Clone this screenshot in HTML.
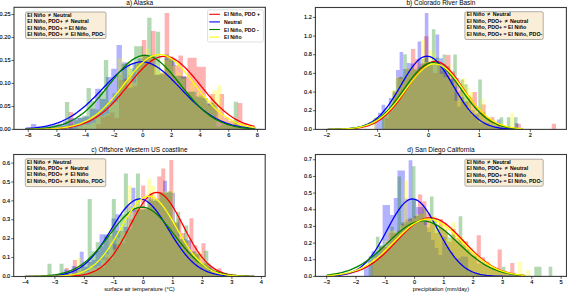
<!DOCTYPE html>
<html><head><meta charset="utf-8"><style>
html,body{margin:0;padding:0;background:#fff;width:567px;height:292px;overflow:hidden}
svg{display:block}
text{font-family:"Liberation Sans", sans-serif;fill:#000}
</style></head><body>
<svg width="567" height="292" viewBox="0 0 567 292" font-family='"Liberation Sans", sans-serif'><defs><clipPath id="clipa"><rect x="14.0" y="7.3" width="251.39999999999998" height="122.10000000000001"/></clipPath><clipPath id="clipb"><rect x="315.4" y="7.5" width="251.0" height="121.9"/></clipPath><clipPath id="clipc"><rect x="13.7" y="154.5" width="251.5" height="122.0"/></clipPath><clipPath id="clipd"><rect x="315.4" y="154.5" width="251.10000000000002" height="121.89999999999998"/></clipPath></defs><rect width="567" height="292" fill="#fff"/>
<g clip-path="url(#clipa)">
<path fill="#ff0000" fill-opacity="0.3" d="M68.7 111.9H73.27V129.4H68.7ZM96.12 124.24H100.69V129.4H96.12ZM100.69 117.28H105.26V129.4H100.69ZM105.26 115.42H109.83V129.4H105.26ZM109.83 112.47H114.4V129.4H109.83ZM114.4 117.97H118.97V129.4H114.4ZM118.97 80.23H123.54V129.4H118.97ZM123.54 78.64H128.11V129.4H123.54ZM128.11 75.17H132.68V129.4H128.11ZM132.68 86.27H137.25V129.4H132.68ZM137.25 61.43H141.82V129.4H137.25ZM141.82 39.9H146.39V129.4H141.82ZM146.39 56.24H150.96V129.4H146.39ZM150.96 31H155.53V129.4H150.96ZM155.53 74.42H160.1V129.4H155.53ZM160.1 72.69H164.67V129.4H160.1ZM164.67 12.9H169.24V129.4H164.67ZM169.24 56.39H173.81V129.4H169.24ZM173.81 65.18H178.38V129.4H173.81ZM178.38 55.48H182.95V129.4H178.38ZM182.95 76.4H187.52V129.4H182.95ZM187.52 57.8H192.09V129.4H187.52ZM192.09 57.8H196.66V129.4H192.09ZM196.66 66.7H201.23V129.4H196.66ZM201.23 66.7H205.8V129.4H201.23ZM205.8 103.47H210.37V129.4H205.8ZM210.37 94H214.94V129.4H210.37ZM214.94 109.47H219.51V129.4H214.94ZM219.51 94H224.08V129.4H219.51ZM224.08 117.59H228.65V129.4H224.08ZM228.65 120.93H233.22V129.4H228.65ZM233.22 121.73H237.79V129.4H233.22ZM237.79 102.9H242.36V129.4H237.79ZM242.36 123.01H246.93V129.4H242.36ZM246.93 126.55H251.5V129.4H246.93ZM251.5 127.01H256.07V129.4H251.5Z"/>
<path fill="#0000ff" fill-opacity="0.3" d="M25.6 127.4H30.95V129.4H25.6ZM30.95 123.9H36.3V129.4H30.95ZM36.3 126.61H41.65V129.4H36.3ZM41.65 126.49H47V129.4H41.65ZM47 125.38H52.35V129.4H47ZM52.35 124.6H57.7V129.4H52.35ZM57.7 123.78H63.05V129.4H57.7ZM63.05 121.43H68.4V129.4H63.05ZM68.4 118.34H73.75V129.4H68.4ZM73.75 117.97H79.1V129.4H73.75ZM79.1 117.61H84.45V129.4H79.1ZM84.45 116.6H89.8V129.4H84.45ZM89.8 108.78H95.15V129.4H89.8ZM95.15 88.8H100.5V129.4H95.15ZM100.5 98.92H105.85V129.4H100.5ZM105.85 77.05H111.2V129.4H105.85ZM111.2 68.8H116.55V129.4H111.2ZM116.55 45.1H121.9V129.4H116.55ZM121.9 62.2H127.25V129.4H121.9ZM127.25 87.73H132.6V129.4H127.25ZM132.6 63.02H137.95V129.4H132.6ZM137.95 58.53H143.3V129.4H137.95ZM143.3 54.68H148.65V129.4H143.3ZM148.65 57.48H154V129.4H148.65ZM154 74.97H159.35V129.4H154ZM159.35 74.51H164.7V129.4H159.35ZM164.7 58.57H170.05V129.4H164.7ZM170.05 58.85H175.4V129.4H170.05ZM175.4 75.68H180.75V129.4H175.4ZM180.75 76.24H186.1V129.4H180.75ZM186.1 91.67H191.45V129.4H186.1ZM191.45 91.85H196.8V129.4H191.45ZM196.8 97.15H202.15V129.4H196.8ZM202.15 98.09H207.5V129.4H202.15ZM207.5 103.34H212.85V129.4H207.5ZM212.85 105.15H218.2V129.4H212.85ZM218.2 121.43H223.55V129.4H218.2ZM223.55 123.35H228.9V129.4H223.55ZM228.9 125.57H234.25V129.4H228.9ZM234.25 126.34H239.6V129.4H234.25ZM239.6 127.09H244.95V129.4H239.6ZM244.95 127.96H250.3V129.4H244.95ZM250.3 128.21H255.65V129.4H250.3ZM255.65 128.86H261V129.4H255.65Z"/>
<path fill="#008000" fill-opacity="0.3" d="M34.59 128.85H38.92V129.4H34.59ZM38.92 128.33H43.25V129.4H38.92ZM43.25 128.15H47.58V129.4H43.25ZM47.58 128H51.91V129.4H47.58ZM51.91 126.52H56.24V129.4H51.91ZM56.24 125.12H60.57V129.4H56.24ZM60.57 125.5H64.9V129.4H60.57ZM64.9 102H69.23V129.4H64.9ZM69.23 124.26H73.56V129.4H69.23ZM73.56 120.25H77.89V129.4H73.56ZM77.89 117.92H82.22V129.4H77.89ZM82.22 115.64H86.55V129.4H82.22ZM86.55 88.1H90.88V129.4H86.55ZM90.88 101.04H95.21V129.4H90.88ZM95.21 109.51H99.54V129.4H95.21ZM99.54 91.05H103.87V129.4H99.54ZM103.87 59.9H108.2V129.4H103.87ZM108.2 101.13H112.53V129.4H108.2ZM112.53 93.16H116.86V129.4H112.53ZM116.86 74.44H121.19V129.4H116.86ZM121.19 64.05H125.52V129.4H121.19ZM125.52 62.88H129.85V129.4H125.52ZM129.85 68.51H134.18V129.4H129.85ZM134.18 46.2H138.51V129.4H134.18ZM138.51 46.2H142.84V129.4H138.51ZM142.84 54.66H147.17V129.4H142.84ZM147.17 17.7H151.5V129.4H147.17ZM151.5 54.8H155.83V129.4H151.5ZM155.83 31.7H160.16V129.4H155.83ZM160.16 73.59H164.49V129.4H160.16ZM164.49 54.28H168.82V129.4H164.49ZM168.82 58.95H173.15V129.4H168.82ZM173.15 76.59H177.48V129.4H173.15ZM177.48 75.87H181.81V129.4H177.48ZM181.81 76.9H186.14V129.4H181.81ZM186.14 91.95H190.47V129.4H186.14ZM190.47 91.53H194.8V129.4H190.47ZM194.8 96.29H199.13V129.4H194.8ZM199.13 95.57H203.46V129.4H199.13ZM203.46 98.35H207.79V129.4H203.46ZM207.79 104.13H212.12V129.4H207.79ZM212.12 102.58H216.45V129.4H212.12ZM216.45 126.5H220.78V129.4H216.45ZM220.78 124.41H225.11V129.4H220.78ZM225.11 124.22H229.44V129.4H225.11ZM229.44 127.05H233.77V129.4H229.44ZM233.77 101.8H238.1V129.4H233.77ZM238.1 127.73H242.43V129.4H238.1ZM242.43 127.94H246.76V129.4H242.43ZM246.76 128.39H251.09V129.4H246.76ZM251.09 128.61H255.42V129.4H251.09Z"/>
<path fill="#ffff00" fill-opacity="0.3" d="M77.6 126.42H82.1V129.4H77.6ZM82.1 124.6H86.6V129.4H82.1ZM86.6 124.6H91.1V129.4H86.6ZM91.1 122.76H95.6V129.4H91.1ZM95.6 117.1H100.1V129.4H95.6ZM100.1 116H104.6V129.4H100.1ZM104.6 113.83H109.1V129.4H104.6ZM109.1 103.87H113.6V129.4H109.1ZM113.6 101.63H118.1V129.4H113.6ZM118.1 58.1H122.6V129.4H118.1ZM122.6 81.31H127.1V129.4H122.6ZM127.1 61.08H131.6V129.4H127.1ZM131.6 82.51H136.1V129.4H131.6ZM136.1 61.11H140.6V129.4H136.1ZM140.6 56.37H145.1V129.4H140.6ZM145.1 48.82H149.6V129.4H145.1ZM149.6 56.46H154.1V129.4H149.6ZM154.1 64.15H158.6V129.4H154.1ZM158.6 71.39H163.1V129.4H158.6ZM163.1 59.93H167.6V129.4H163.1ZM167.6 59.04H172.1V129.4H167.6ZM172.1 66H176.6V129.4H172.1ZM176.6 72.26H181.1V129.4H176.6ZM181.1 78.41H185.6V129.4H181.1ZM185.6 91.77H190.1V129.4H185.6ZM190.1 83.02H194.6V129.4H190.1ZM194.6 91.53H199.1V129.4H194.6ZM199.1 95.26H203.6V129.4H199.1ZM203.6 97.98H208.1V129.4H203.6ZM208.1 105.44H212.6V129.4H208.1ZM212.6 89.9H217.1V129.4H212.6ZM217.1 85.4H221.6V129.4H217.1ZM221.6 119.02H226.1V129.4H221.6ZM226.1 121.81H230.6V129.4H226.1ZM230.6 123.13H235.1V129.4H230.6ZM235.1 124.25H239.6V129.4H235.1ZM239.6 123.1H244.1V129.4H239.6ZM244.1 126.33H248.6V129.4H244.1ZM248.6 127.63H253.1V129.4H248.6ZM253.1 128.23H257.6V129.4H253.1Z"/>
<polyline points="25.43,129.36 27.34,129.35 29.24,129.34 31.15,129.32 33.06,129.31 34.97,129.29 36.88,129.26 38.79,129.24 40.70,129.20 42.61,129.16 44.52,129.12 46.43,129.06 48.34,129.00 50.25,128.93 52.16,128.84 54.07,128.74 55.98,128.63 57.88,128.49 59.79,128.34 61.70,128.16 63.61,127.96 65.52,127.73 67.43,127.48 69.34,127.18 71.25,126.85 73.16,126.48 75.07,126.06 76.98,125.60 78.89,125.08 80.80,124.50 82.71,123.87 84.62,123.16 86.52,122.39 88.43,121.55 90.34,120.63 92.25,119.63 94.16,118.55 96.07,117.38 97.98,116.12 99.89,114.77 101.80,113.33 103.71,111.80 105.62,110.17 107.53,108.46 109.44,106.65 111.35,104.76 113.26,102.79 115.16,100.75 117.07,98.63 118.98,96.45 120.89,94.21 122.80,91.93 124.71,89.61 126.62,87.27 128.53,84.92 130.44,82.56 132.35,80.23 134.26,77.92 136.17,75.65 138.08,73.44 139.99,71.31 141.90,69.27 143.80,67.33 145.71,65.50 147.62,63.81 149.53,62.27 151.44,60.88 153.35,59.66 155.26,58.61 157.17,57.76 159.08,57.10 160.99,56.64 162.90,56.38 164.81,56.33 166.72,56.48 168.63,56.84 170.54,57.41 172.44,58.16 174.35,59.11 176.26,60.24 178.17,61.55 180.08,63.02 181.99,64.64 183.90,66.40 185.81,68.28 187.72,70.28 189.63,72.37 191.54,74.54 193.45,76.78 195.36,79.07 197.27,81.39 199.18,83.74 201.08,86.09 202.99,88.44 204.90,90.77 206.81,93.08 208.72,95.34 210.63,97.55 212.54,99.70 214.45,101.78 216.36,103.79 218.27,105.72 220.18,107.57 222.09,109.32 224.00,110.99 225.91,112.57 227.82,114.06 229.72,115.45 231.63,116.76 233.54,117.97 235.45,119.10 237.36,120.14 239.27,121.10 241.18,121.98 243.09,122.79 245.00,123.52 246.91,124.19 248.82,124.80 250.73,125.34 252.64,125.83 254.55,126.28" fill="none" stroke="#ff0000" stroke-width="1.3" stroke-linejoin="round"/>
<polyline points="25.43,128.63 27.34,128.51 29.24,128.37 31.15,128.22 33.06,128.04 34.97,127.84 36.88,127.62 38.79,127.37 40.70,127.09 42.61,126.78 44.52,126.44 46.43,126.05 48.34,125.63 50.25,125.16 52.16,124.65 54.07,124.09 55.98,123.47 57.88,122.80 59.79,122.07 61.70,121.28 63.61,120.43 65.52,119.51 67.43,118.52 69.34,117.47 71.25,116.34 73.16,115.14 75.07,113.87 76.98,112.52 78.89,111.10 80.80,109.62 82.71,108.06 84.62,106.43 86.52,104.74 88.43,102.99 90.34,101.19 92.25,99.33 94.16,97.43 96.07,95.49 97.98,93.52 99.89,91.53 101.80,89.52 103.71,87.51 105.62,85.50 107.53,83.51 109.44,81.54 111.35,79.60 113.26,77.72 115.16,75.89 117.07,74.13 118.98,72.45 120.89,70.86 122.80,69.38 124.71,68.00 126.62,66.74 128.53,65.61 130.44,64.62 132.35,63.77 134.26,63.07 136.17,62.52 138.08,62.13 139.99,61.90 141.90,61.84 143.80,61.94 145.71,62.20 147.62,62.62 149.53,63.20 151.44,63.93 153.35,64.81 155.26,65.83 157.17,66.98 159.08,68.26 160.99,69.66 162.90,71.17 164.81,72.78 166.72,74.48 168.63,76.25 170.54,78.09 172.44,79.99 174.35,81.93 176.26,83.90 178.17,85.90 180.08,87.91 181.99,89.92 183.90,91.93 185.81,93.92 187.72,95.88 189.63,97.81 191.54,99.71 193.45,101.55 195.36,103.35 197.27,105.09 199.18,106.76 201.08,108.37 202.99,109.92 204.90,111.39 206.81,112.80 208.72,114.13 210.63,115.38 212.54,116.57 214.45,117.68 216.36,118.72 218.27,119.70 220.18,120.60 222.09,121.44 224.00,122.22 225.91,122.94 227.82,123.60 229.72,124.20 231.63,124.76 233.54,125.26 235.45,125.72 237.36,126.13 239.27,126.51 241.18,126.85 243.09,127.15 245.00,127.42 246.91,127.67 248.82,127.89 250.73,128.08 252.64,128.25 254.55,128.40" fill="none" stroke="#0000ff" stroke-width="1.3" stroke-linejoin="round"/>
<polyline points="25.43,129.14 27.34,129.09 29.24,129.03 31.15,128.96 33.06,128.88 34.97,128.79 36.88,128.68 38.79,128.55 40.70,128.40 42.61,128.24 44.52,128.04 46.43,127.82 48.34,127.57 50.25,127.28 52.16,126.96 54.07,126.60 55.98,126.19 57.88,125.73 59.79,125.22 61.70,124.65 63.61,124.02 65.52,123.32 67.43,122.55 69.34,121.71 71.25,120.79 73.16,119.79 75.07,118.70 76.98,117.53 78.89,116.26 80.80,114.90 82.71,113.44 84.62,111.89 86.52,110.24 88.43,108.50 90.34,106.66 92.25,104.74 94.16,102.73 96.07,100.64 97.98,98.48 99.89,96.25 101.80,93.96 103.71,91.62 105.62,89.25 107.53,86.85 109.44,84.44 111.35,82.02 113.26,79.63 115.16,77.26 117.07,74.94 118.98,72.68 120.89,70.49 122.80,68.40 124.71,66.42 126.62,64.56 128.53,62.84 130.44,61.27 132.35,59.86 134.26,58.63 136.17,57.59 138.08,56.74 139.99,56.10 141.90,55.66 143.80,55.44 145.71,55.43 147.62,55.63 149.53,56.04 151.44,56.67 153.35,57.50 155.26,58.52 157.17,59.73 159.08,61.12 160.99,62.67 162.90,64.38 164.81,66.22 166.72,68.20 168.63,70.28 170.54,72.45 172.44,74.71 174.35,77.02 176.26,79.39 178.17,81.78 180.08,84.20 181.99,86.61 183.90,89.01 185.81,91.39 187.72,93.73 189.63,96.02 191.54,98.26 193.45,100.43 195.36,102.53 197.27,104.54 199.18,106.47 201.08,108.32 202.99,110.07 204.90,111.73 206.81,113.29 208.72,114.75 210.63,116.13 212.54,117.40 214.45,118.59 216.36,119.69 218.27,120.70 220.18,121.62 222.09,122.47 224.00,123.25 225.91,123.95 227.82,124.59 229.72,125.16 231.63,125.68 233.54,126.14 235.45,126.56 237.36,126.93 239.27,127.25 241.18,127.54 243.09,127.80 245.00,128.02 246.91,128.22 248.82,128.39 250.73,128.54 252.64,128.67 254.55,128.78" fill="none" stroke="#008000" stroke-width="1.3" stroke-linejoin="round"/>
<polyline points="25.43,129.35 27.34,129.34 29.24,129.32 31.15,129.31 33.06,129.29 34.97,129.26 36.88,129.23 38.79,129.20 40.70,129.16 42.61,129.11 44.52,129.05 46.43,128.98 48.34,128.90 50.25,128.81 52.16,128.70 54.07,128.58 55.98,128.43 57.88,128.26 59.79,128.07 61.70,127.85 63.61,127.60 65.52,127.31 67.43,126.99 69.34,126.62 71.25,126.21 73.16,125.75 75.07,125.23 76.98,124.66 78.89,124.02 80.80,123.31 82.71,122.53 84.62,121.67 86.52,120.73 88.43,119.71 90.34,118.60 92.25,117.39 94.16,116.09 96.07,114.70 97.98,113.20 99.89,111.61 101.80,109.91 103.71,108.12 105.62,106.24 107.53,104.26 109.44,102.19 111.35,100.04 113.26,97.81 115.16,95.52 117.07,93.17 118.98,90.77 120.89,88.33 122.80,85.86 124.71,83.39 126.62,80.92 128.53,78.47 130.44,76.05 132.35,73.68 134.26,71.38 136.17,69.17 138.08,67.05 139.99,65.06 141.90,63.19 143.80,61.48 145.71,59.92 147.62,58.54 149.53,57.35 151.44,56.35 153.35,55.56 155.26,54.99 157.17,54.63 159.08,54.49 160.99,54.57 162.90,54.87 164.81,55.40 166.72,56.14 168.63,57.08 170.54,58.23 172.44,59.56 174.35,61.07 176.26,62.75 178.17,64.58 180.08,66.54 181.99,68.63 183.90,70.82 185.81,73.10 187.72,75.45 189.63,77.86 191.54,80.30 193.45,82.77 195.36,85.25 197.27,87.71 199.18,90.16 201.08,92.57 202.99,94.94 204.90,97.25 206.81,99.49 208.72,101.66 210.63,103.75 212.54,105.75 214.45,107.66 216.36,109.48 218.27,111.19 220.18,112.81 222.09,114.33 224.00,115.75 225.91,117.08 227.82,118.30 229.72,119.44 231.63,120.49 233.54,121.45 235.45,122.32 237.36,123.12 239.27,123.85 241.18,124.50 243.09,125.09 245.00,125.63 246.91,126.10 248.82,126.53 250.73,126.90 252.64,127.24 254.55,127.53" fill="none" stroke="#ffff00" stroke-width="1.3" stroke-linejoin="round"/>
</g>
<rect x="14.0" y="7.3" width="251.39999999999998" height="122.10000000000001" fill="none" stroke="#3a3a3a" stroke-width="1.1"/>
<line x1="28.29" y1="129.4" x2="28.29" y2="131.9" stroke="#000" stroke-width="0.6"/>
<text x="28.29" y="136.60" text-anchor="middle" font-size="5.7" stroke="#000" stroke-width="0.12">−8</text>
<line x1="56.93" y1="129.4" x2="56.93" y2="131.9" stroke="#000" stroke-width="0.6"/>
<text x="56.93" y="136.60" text-anchor="middle" font-size="5.7" stroke="#000" stroke-width="0.12">−6</text>
<line x1="85.57" y1="129.4" x2="85.57" y2="131.9" stroke="#000" stroke-width="0.6"/>
<text x="85.57" y="136.60" text-anchor="middle" font-size="5.7" stroke="#000" stroke-width="0.12">−4</text>
<line x1="114.21" y1="129.4" x2="114.21" y2="131.9" stroke="#000" stroke-width="0.6"/>
<text x="114.21" y="136.60" text-anchor="middle" font-size="5.7" stroke="#000" stroke-width="0.12">−2</text>
<line x1="142.85" y1="129.4" x2="142.85" y2="131.9" stroke="#000" stroke-width="0.6"/>
<text x="142.85" y="136.60" text-anchor="middle" font-size="5.7" stroke="#000" stroke-width="0.12">0</text>
<line x1="171.49" y1="129.4" x2="171.49" y2="131.9" stroke="#000" stroke-width="0.6"/>
<text x="171.49" y="136.60" text-anchor="middle" font-size="5.7" stroke="#000" stroke-width="0.12">2</text>
<line x1="200.13" y1="129.4" x2="200.13" y2="131.9" stroke="#000" stroke-width="0.6"/>
<text x="200.13" y="136.60" text-anchor="middle" font-size="5.7" stroke="#000" stroke-width="0.12">4</text>
<line x1="228.77" y1="129.4" x2="228.77" y2="131.9" stroke="#000" stroke-width="0.6"/>
<text x="228.77" y="136.60" text-anchor="middle" font-size="5.7" stroke="#000" stroke-width="0.12">6</text>
<line x1="257.41" y1="129.4" x2="257.41" y2="131.9" stroke="#000" stroke-width="0.6"/>
<text x="257.41" y="136.60" text-anchor="middle" font-size="5.7" stroke="#000" stroke-width="0.12">8</text>
<line x1="11.5" y1="129.40" x2="14.0" y2="129.40" stroke="#000" stroke-width="0.6"/>
<text x="10.5" y="131.00" text-anchor="end" font-size="5.6" stroke="#000" stroke-width="0.12">0.00</text>
<line x1="11.5" y1="106.42" x2="14.0" y2="106.42" stroke="#000" stroke-width="0.6"/>
<text x="10.5" y="108.02" text-anchor="end" font-size="5.6" stroke="#000" stroke-width="0.12">0.05</text>
<line x1="11.5" y1="83.44" x2="14.0" y2="83.44" stroke="#000" stroke-width="0.6"/>
<text x="10.5" y="85.04" text-anchor="end" font-size="5.6" stroke="#000" stroke-width="0.12">0.10</text>
<line x1="11.5" y1="60.46" x2="14.0" y2="60.46" stroke="#000" stroke-width="0.6"/>
<text x="10.5" y="62.06" text-anchor="end" font-size="5.6" stroke="#000" stroke-width="0.12">0.15</text>
<line x1="11.5" y1="37.48" x2="14.0" y2="37.48" stroke="#000" stroke-width="0.6"/>
<text x="10.5" y="39.08" text-anchor="end" font-size="5.6" stroke="#000" stroke-width="0.12">0.20</text>
<line x1="11.5" y1="14.50" x2="14.0" y2="14.50" stroke="#000" stroke-width="0.6"/>
<text x="10.5" y="16.10" text-anchor="end" font-size="5.6" stroke="#000" stroke-width="0.12">0.25</text>
<text x="139.70" y="5.10" text-anchor="middle" font-size="6.5">a) Alaska</text>
<g clip-path="url(#clipb)">
<path fill="#ff0000" fill-opacity="0.3" d="M384.5 117.63H388.9V129.4H384.5ZM388.9 109.31H393.3V129.4H388.9ZM393.3 91.38H397.7V129.4H393.3ZM397.7 77.28H402.1V129.4H397.7ZM402.1 77.76H406.5V129.4H402.1ZM406.5 68.56H410.9V129.4H406.5ZM410.9 48.9H415.3V129.4H410.9ZM415.3 59.37H419.7V129.4H415.3ZM419.7 63.76H424.1V129.4H419.7ZM424.1 36.2H428.5V129.4H424.1ZM428.5 65.25H432.9V129.4H428.5ZM432.9 73.07H437.3V129.4H432.9ZM437.3 62.36H441.7V129.4H437.3ZM441.7 70.81H446.1V129.4H441.7ZM446.1 54.9H450.5V129.4H446.1ZM450.5 71.59H454.9V129.4H450.5ZM454.9 78.09H459.3V129.4H454.9ZM459.3 90.04H463.7V129.4H459.3ZM463.7 101.83H468.1V129.4H463.7ZM468.1 97.46H472.5V129.4H468.1ZM472.5 92H476.9V129.4H472.5ZM476.9 112.45H481.3V129.4H476.9ZM481.3 104.5H485.7V129.4H481.3ZM485.7 118.66H490.1V129.4H485.7ZM490.1 117.3H494.5V129.4H490.1ZM494.5 124.69H498.9V129.4H494.5ZM498.9 125.38H503.3V129.4H498.9ZM503.3 126.56H507.7V129.4H503.3ZM507.7 127.69H512.1V129.4H507.7ZM512.1 128.34H516.5V129.4H512.1ZM516.5 123.7H520.9V129.4H516.5ZM520.9 128.96H525.3V129.4H520.9ZM551.7 123.7H556.1V129.4H551.7Z"/>
<path fill="#0000ff" fill-opacity="0.3" d="M374.4 117.91H378V129.4H374.4ZM378 112.8H381.6V129.4H378ZM381.6 104.8H385.2V129.4H381.6ZM385.2 111.46H388.8V129.4H385.2ZM388.8 98.1H392.4V129.4H388.8ZM392.4 92.58H396V129.4H392.4ZM396 69.9H399.6V129.4H396ZM399.6 52H403.2V129.4H399.6ZM403.2 68.93H406.8V129.4H403.2ZM406.8 63H410.4V129.4H406.8ZM410.4 63.56H414V129.4H410.4ZM414 69.53H417.6V129.4H414ZM417.6 41.5H421.2V129.4H417.6ZM421.2 63.28H424.8V129.4H421.2ZM424.8 12.9H428.4V129.4H424.8ZM428.4 65.02H432V129.4H428.4ZM432 62.91H435.6V129.4H432ZM435.6 34.5H439.2V129.4H435.6ZM439.2 58.28H442.8V129.4H439.2ZM442.8 64.39H446.4V129.4H442.8ZM446.4 65.94H450V129.4H446.4ZM450 78.31H453.6V129.4H450ZM453.6 86.47H457.2V129.4H453.6ZM457.2 106.72H460.8V129.4H457.2ZM460.8 96.96H464.4V129.4H460.8ZM464.4 101.35H468V129.4H464.4ZM468 111.68H471.6V129.4H468ZM471.6 115.87H475.2V129.4H471.6ZM475.2 114.61H478.8V129.4H475.2ZM478.8 123.26H482.4V129.4H478.8ZM482.4 122.59H486V129.4H482.4ZM486 123H489.6V129.4H486ZM489.6 126.59H493.2V129.4H489.6ZM493.2 126.84H496.8V129.4H493.2ZM496.8 119.5H500.4V129.4H496.8ZM500.4 128.01H504V129.4H500.4ZM504 128.71H507.6V129.4H504ZM507.6 128.9H511.2V129.4H507.6ZM511.2 129.07H514.8V129.4H511.2ZM514.8 123.3H518.4V129.4H514.8Z"/>
<path fill="#008000" fill-opacity="0.3" d="M381.88 114.38H385.45V129.4H381.88ZM385.45 111.37H389.02V129.4H385.45ZM389.02 110.49H392.59V129.4H389.02ZM392.59 90.55H396.16V129.4H392.59ZM396.16 78.04H399.73V129.4H396.16ZM399.73 76.69H403.3V129.4H399.73ZM403.3 54.2H406.87V129.4H403.3ZM406.87 69.45H410.44V129.4H406.87ZM410.44 67.81H414.01V129.4H410.44ZM414.01 69.84H417.58V129.4H414.01ZM417.58 66.75H421.15V129.4H417.58ZM421.15 59.09H424.72V129.4H421.15ZM424.72 56.15H428.29V129.4H424.72ZM428.29 63.18H431.86V129.4H428.29ZM431.86 29.2H435.43V129.4H431.86ZM435.43 57.5H439V129.4H435.43ZM439 66.7H442.57V129.4H439ZM442.57 54.4H446.14V129.4H442.57ZM446.14 75.51H449.71V129.4H446.14ZM449.71 79.34H453.28V129.4H449.71ZM453.28 54.4H456.85V129.4H453.28ZM456.85 92.43H460.42V129.4H456.85ZM460.42 79.6H463.99V129.4H460.42ZM463.99 84.31H467.56V129.4H463.99ZM467.56 95.79H471.13V129.4H467.56ZM471.13 109.75H474.7V129.4H471.13ZM474.7 113.59H478.27V129.4H474.7ZM478.27 79.6H481.84V129.4H478.27ZM481.84 112.58H485.41V129.4H481.84ZM485.41 117.29H488.98V129.4H485.41ZM488.98 118.89H492.55V129.4H488.98ZM492.55 122.36H496.12V129.4H492.55ZM496.12 125.35H499.69V129.4H496.12ZM499.69 117.3H503.26V129.4H499.69ZM503.26 126.74H506.83V129.4H503.26ZM506.83 117.3H510.4V129.4H506.83ZM510.4 128.55H513.97V129.4H510.4ZM513.97 117.3H517.54V129.4H513.97ZM517.54 128.85H521.11V129.4H517.54Z"/>
<path fill="#ffff00" fill-opacity="0.3" d="M372.74 117.4H376.46V129.4H372.74ZM383.9 115.49H387.62V129.4H383.9ZM387.62 110.39H391.34V129.4H387.62ZM391.34 90.65H395.06V129.4H391.34ZM395.06 77.11H398.78V129.4H395.06ZM398.78 78.78H402.5V129.4H398.78ZM402.5 77.37H406.22V129.4H402.5ZM406.22 68.54H409.94V129.4H406.22ZM409.94 67.55H413.66V129.4H409.94ZM413.66 69.7H417.38V129.4H413.66ZM417.38 69.15H421.1V129.4H417.38ZM421.1 39.7H424.82V129.4H421.1ZM424.82 62.06H428.54V129.4H424.82ZM428.54 50.3H432.26V129.4H428.54ZM432.26 52.87H435.98V129.4H432.26ZM435.98 59.66H439.7V129.4H435.98ZM439.7 74H443.42V129.4H439.7ZM443.42 77.32H447.14V129.4H443.42ZM447.14 64.68H450.86V129.4H447.14ZM450.86 84.9H454.58V129.4H450.86ZM454.58 100.86H458.3V129.4H454.58ZM458.3 92.44H462.02V129.4H458.3ZM462.02 78.2H465.74V129.4H462.02ZM465.74 86.59H469.46V129.4H465.74ZM469.46 92H473.18V129.4H469.46ZM473.18 106.25H476.9V129.4H473.18ZM476.9 113.44H480.62V129.4H476.9ZM480.62 98.8H484.34V129.4H480.62ZM484.34 117.68H488.06V129.4H484.34ZM488.06 118H491.78V129.4H488.06ZM491.78 120.59H495.5V129.4H491.78ZM495.5 123H499.22V129.4H495.5ZM499.22 123.62H502.94V129.4H499.22ZM502.94 125.56H506.66V129.4H502.94ZM506.66 126.91H510.38V129.4H506.66ZM510.38 113H514.1V129.4H510.38ZM514.1 128.03H517.82V129.4H514.1ZM517.82 128.3H521.54V129.4H517.82Z"/>
<polyline points="327.72,129.36 329.34,129.35 330.97,129.34 332.59,129.32 334.22,129.30 335.84,129.28 337.47,129.25 339.09,129.22 340.71,129.18 342.34,129.13 343.96,129.08 345.59,129.01 347.21,128.93 348.84,128.84 350.46,128.73 352.09,128.60 353.71,128.45 355.34,128.27 356.96,128.07 358.58,127.84 360.21,127.57 361.83,127.26 363.46,126.91 365.08,126.52 366.71,126.07 368.33,125.56 369.96,124.99 371.58,124.36 373.21,123.65 374.83,122.86 376.45,122.00 378.08,121.04 379.70,120.00 381.33,118.86 382.95,117.62 384.58,116.29 386.20,114.85 387.83,113.30 389.45,111.66 391.08,109.91 392.70,108.07 394.32,106.12 395.95,104.09 397.57,101.98 399.20,99.78 400.82,97.52 402.45,95.21 404.07,92.85 405.70,90.46 407.32,88.06 408.95,85.66 410.57,83.27 412.20,80.92 413.82,78.62 415.44,76.40 417.07,74.26 418.69,72.24 420.32,70.34 421.94,68.58 423.57,66.99 425.19,65.57 426.82,64.34 428.44,63.31 430.07,62.49 431.69,61.90 433.31,61.53 434.94,61.39 436.56,61.48 438.19,61.80 439.81,62.34 441.44,63.11 443.06,64.10 444.69,65.28 446.31,66.66 447.94,68.22 449.56,69.94 451.18,71.81 452.81,73.81 454.43,75.92 456.06,78.13 457.68,80.41 459.31,82.75 460.93,85.13 462.56,87.53 464.18,89.94 465.81,92.33 467.43,94.70 469.05,97.02 470.68,99.29 472.30,101.50 473.93,103.63 475.55,105.69 477.18,107.65 478.80,109.52 480.43,111.28 482.05,112.95 483.68,114.52 485.30,115.98 486.92,117.34 488.55,118.60 490.17,119.76 491.80,120.82 493.42,121.79 495.05,122.68 496.67,123.48 498.30,124.21 499.92,124.86 501.55,125.44 503.17,125.96 504.79,126.42 506.42,126.83 508.04,127.19 509.67,127.51 511.29,127.78 512.92,128.02 514.54,128.23 516.17,128.41 517.79,128.57 519.42,128.70 521.04,128.82 522.66,128.91" fill="none" stroke="#ff0000" stroke-width="1.3" stroke-linejoin="round"/>
<polyline points="327.72,129.35 329.34,129.34 330.97,129.33 332.59,129.31 334.22,129.28 335.84,129.25 337.47,129.22 339.09,129.17 340.71,129.12 342.34,129.05 343.96,128.97 345.59,128.88 347.21,128.77 348.84,128.64 350.46,128.48 352.09,128.29 353.71,128.07 355.34,127.82 356.96,127.52 358.58,127.18 360.21,126.78 361.83,126.33 363.46,125.81 365.08,125.21 366.71,124.55 368.33,123.79 369.96,122.95 371.58,122.00 373.21,120.96 374.83,119.80 376.45,118.52 378.08,117.13 379.70,115.61 381.33,113.96 382.95,112.18 384.58,110.28 386.20,108.25 387.83,106.09 389.45,103.82 391.08,101.44 392.70,98.95 394.32,96.37 395.95,93.72 397.57,91.01 399.20,88.25 400.82,85.46 402.45,82.67 404.07,79.91 405.70,77.18 407.32,74.52 408.95,71.95 410.57,69.50 412.20,67.19 413.82,65.04 415.44,63.08 417.07,61.34 418.69,59.82 420.32,58.54 421.94,57.53 423.57,56.79 425.19,56.33 426.82,56.16 428.44,56.28 430.07,56.68 431.69,57.37 433.31,58.33 434.94,59.55 436.56,61.02 438.19,62.73 439.81,64.65 441.44,66.76 443.06,69.04 444.69,71.47 446.31,74.01 447.94,76.66 449.56,79.37 451.18,82.14 452.81,84.92 454.43,87.71 456.06,90.48 457.68,93.20 459.31,95.87 460.93,98.46 462.56,100.96 464.18,103.37 465.81,105.66 467.43,107.84 469.05,109.90 470.68,111.83 472.30,113.63 473.93,115.30 475.55,116.84 477.18,118.26 478.80,119.56 480.43,120.74 482.05,121.81 483.68,122.77 485.30,123.64 486.92,124.41 488.55,125.09 490.17,125.70 491.80,126.23 493.42,126.70 495.05,127.10 496.67,127.46 498.30,127.76 499.92,128.03 501.55,128.25 503.17,128.44 504.79,128.61 506.42,128.74 508.04,128.86 509.67,128.96 511.29,129.04 512.92,129.11 514.54,129.16 516.17,129.21 517.79,129.25 519.42,129.28 521.04,129.30 522.66,129.32" fill="none" stroke="#0000ff" stroke-width="1.3" stroke-linejoin="round"/>
<polyline points="327.72,129.33 329.34,129.31 330.97,129.29 332.59,129.27 334.22,129.24 335.84,129.20 337.47,129.16 339.09,129.11 340.71,129.05 342.34,128.98 343.96,128.89 345.59,128.79 347.21,128.68 348.84,128.55 350.46,128.39 352.09,128.21 353.71,128.00 355.34,127.76 356.96,127.49 358.58,127.18 360.21,126.82 361.83,126.42 363.46,125.97 365.08,125.46 366.71,124.90 368.33,124.26 369.96,123.56 371.58,122.79 373.21,121.93 374.83,120.99 376.45,119.97 378.08,118.85 379.70,117.65 381.33,116.34 382.95,114.94 384.58,113.44 386.20,111.85 387.83,110.16 389.45,108.37 391.08,106.50 392.70,104.53 394.32,102.49 395.95,100.38 397.57,98.20 399.20,95.97 400.82,93.70 402.45,91.40 404.07,89.08 405.70,86.76 407.32,84.46 408.95,82.18 410.57,79.96 412.20,77.79 413.82,75.71 415.44,73.73 417.07,71.87 418.69,70.14 420.32,68.55 421.94,67.13 423.57,65.88 425.19,64.82 426.82,63.96 428.44,63.30 430.07,62.86 431.69,62.63 433.31,62.62 434.94,62.83 436.56,63.26 438.19,63.89 439.81,64.74 441.44,65.78 443.06,67.01 444.69,68.42 446.31,69.99 447.94,71.71 449.56,73.57 451.18,75.54 452.81,77.61 454.43,79.77 456.06,81.99 457.68,84.26 459.31,86.56 460.93,88.88 462.56,91.20 464.18,93.50 465.81,95.78 467.43,98.01 469.05,100.19 470.68,102.31 472.30,104.36 473.93,106.33 475.55,108.21 477.18,110.01 478.80,111.71 480.43,113.31 482.05,114.82 483.68,116.23 485.30,117.54 486.92,118.75 488.55,119.88 490.17,120.91 491.80,121.85 493.42,122.71 495.05,123.50 496.67,124.21 498.30,124.84 499.92,125.42 501.55,125.93 503.17,126.39 504.79,126.79 506.42,127.15 508.04,127.46 509.67,127.74 511.29,127.98 512.92,128.19 514.54,128.37 516.17,128.53 517.79,128.67 519.42,128.79 521.04,128.89 522.66,128.97" fill="none" stroke="#008000" stroke-width="1.3" stroke-linejoin="round"/>
<polyline points="327.72,129.33 329.34,129.31 330.97,129.29 332.59,129.27 334.22,129.24 335.84,129.21 337.47,129.17 339.09,129.12 340.71,129.06 342.34,129.00 343.96,128.92 345.59,128.83 347.21,128.72 348.84,128.59 350.46,128.45 352.09,128.28 353.71,128.09 355.34,127.87 356.96,127.62 358.58,127.33 360.21,127.00 361.83,126.63 363.46,126.22 365.08,125.75 366.71,125.23 368.33,124.65 369.96,124.01 371.58,123.30 373.21,122.52 374.83,121.66 376.45,120.72 378.08,119.70 379.70,118.59 381.33,117.39 382.95,116.10 384.58,114.72 386.20,113.25 387.83,111.69 389.45,110.03 391.08,108.29 392.70,106.47 394.32,104.56 395.95,102.59 397.57,100.54 399.20,98.44 400.82,96.29 402.45,94.10 404.07,91.88 405.70,89.65 407.32,87.43 408.95,85.21 410.57,83.03 412.20,80.89 413.82,78.81 415.44,76.81 417.07,74.90 418.69,73.10 420.32,71.43 421.94,69.89 423.57,68.50 425.19,67.28 426.82,66.24 428.44,65.38 430.07,64.71 431.69,64.24 433.31,63.97 434.94,63.91 436.56,64.05 438.19,64.40 439.81,64.96 441.44,65.70 443.06,66.64 444.69,67.76 446.31,69.05 447.94,70.50 449.56,72.09 451.18,73.82 452.81,75.67 454.43,77.61 456.06,79.65 457.68,81.75 459.31,83.91 460.93,86.11 462.56,88.33 464.18,90.56 465.81,92.79 467.43,94.99 469.05,97.17 470.68,99.30 472.30,101.38 473.93,103.40 475.55,105.35 477.18,107.22 478.80,109.01 480.43,110.72 482.05,112.34 483.68,113.86 485.30,115.30 486.92,116.64 488.55,117.89 490.17,119.05 491.80,120.12 493.42,121.11 495.05,122.02 496.67,122.85 498.30,123.60 499.92,124.28 501.55,124.90 503.17,125.45 504.79,125.95 506.42,126.39 508.04,126.79 509.67,127.14 511.29,127.45 512.92,127.72 514.54,127.96 516.17,128.17 517.79,128.35 519.42,128.51 521.04,128.65 522.66,128.76" fill="none" stroke="#ffff00" stroke-width="1.3" stroke-linejoin="round"/>
</g>
<rect x="315.4" y="7.5" width="251.0" height="121.9" fill="none" stroke="#3a3a3a" stroke-width="1.1"/>
<line x1="326.70" y1="129.4" x2="326.70" y2="131.9" stroke="#000" stroke-width="0.6"/>
<text x="326.70" y="136.60" text-anchor="middle" font-size="5.7" stroke="#000" stroke-width="0.12">−2</text>
<line x1="377.60" y1="129.4" x2="377.60" y2="131.9" stroke="#000" stroke-width="0.6"/>
<text x="377.60" y="136.60" text-anchor="middle" font-size="5.7" stroke="#000" stroke-width="0.12">−1</text>
<line x1="428.50" y1="129.4" x2="428.50" y2="131.9" stroke="#000" stroke-width="0.6"/>
<text x="428.50" y="136.60" text-anchor="middle" font-size="5.7" stroke="#000" stroke-width="0.12">0</text>
<line x1="479.40" y1="129.4" x2="479.40" y2="131.9" stroke="#000" stroke-width="0.6"/>
<text x="479.40" y="136.60" text-anchor="middle" font-size="5.7" stroke="#000" stroke-width="0.12">1</text>
<line x1="530.30" y1="129.4" x2="530.30" y2="131.9" stroke="#000" stroke-width="0.6"/>
<text x="530.30" y="136.60" text-anchor="middle" font-size="5.7" stroke="#000" stroke-width="0.12">2</text>
<line x1="312.9" y1="129.40" x2="315.4" y2="129.40" stroke="#000" stroke-width="0.6"/>
<text x="311.9" y="131.00" text-anchor="end" font-size="5.6" stroke="#000" stroke-width="0.12">0.0</text>
<line x1="312.9" y1="110.74" x2="315.4" y2="110.74" stroke="#000" stroke-width="0.6"/>
<text x="311.9" y="112.34" text-anchor="end" font-size="5.6" stroke="#000" stroke-width="0.12">0.2</text>
<line x1="312.9" y1="92.08" x2="315.4" y2="92.08" stroke="#000" stroke-width="0.6"/>
<text x="311.9" y="93.68" text-anchor="end" font-size="5.6" stroke="#000" stroke-width="0.12">0.4</text>
<line x1="312.9" y1="73.42" x2="315.4" y2="73.42" stroke="#000" stroke-width="0.6"/>
<text x="311.9" y="75.02" text-anchor="end" font-size="5.6" stroke="#000" stroke-width="0.12">0.6</text>
<line x1="312.9" y1="54.76" x2="315.4" y2="54.76" stroke="#000" stroke-width="0.6"/>
<text x="311.9" y="56.36" text-anchor="end" font-size="5.6" stroke="#000" stroke-width="0.12">0.8</text>
<line x1="312.9" y1="36.10" x2="315.4" y2="36.10" stroke="#000" stroke-width="0.6"/>
<text x="311.9" y="37.70" text-anchor="end" font-size="5.6" stroke="#000" stroke-width="0.12">1.0</text>
<line x1="312.9" y1="17.44" x2="315.4" y2="17.44" stroke="#000" stroke-width="0.6"/>
<text x="311.9" y="19.04" text-anchor="end" font-size="5.6" stroke="#000" stroke-width="0.12">1.2</text>
<text x="440.90" y="5.30" text-anchor="middle" font-size="6.5">b) Colorado River Basin</text>
<g clip-path="url(#clipc)">
<path fill="#ff0000" fill-opacity="0.3" d="M64.8 268H68.82V276.5H64.8ZM68.82 276.19H72.84V276.5H68.82ZM72.84 260H76.86V276.5H72.84ZM76.86 275.53H80.88V276.5H76.86ZM80.88 274.75H84.9V276.5H80.88ZM84.9 274.29H88.92V276.5H84.9ZM88.92 272.39H92.94V276.5H88.92ZM92.94 271H96.96V276.5H92.94ZM96.96 268.35H100.98V276.5H96.96ZM100.98 267.22H105V276.5H100.98ZM105 257.57H109.02V276.5H105ZM109.02 259.15H113.04V276.5H109.02ZM113.04 244.32H117.06V276.5H113.04ZM117.06 244.1H121.08V276.5H117.06ZM121.08 242.66H125.1V276.5H121.08ZM125.1 231.51H129.12V276.5H125.1ZM129.12 219.37H133.14V276.5H129.12ZM133.14 208.63H137.16V276.5H133.14ZM137.16 208.57H141.18V276.5H137.16ZM141.18 185.5H145.2V276.5H141.18ZM145.2 208.61H149.22V276.5H145.2ZM149.22 193.24H153.24V276.5H149.22ZM153.24 200.65H157.26V276.5H153.24ZM157.26 176.6H161.28V276.5H157.26ZM161.28 168.4H165.3V276.5H161.28ZM165.3 193.14H169.32V276.5H165.3ZM169.32 160.1H173.34V276.5H169.32ZM173.34 223.45H177.36V276.5H173.34ZM177.36 218.76H181.38V276.5H177.36ZM181.38 232.95H185.4V276.5H181.38ZM185.4 241.01H189.42V276.5H185.4ZM189.42 218.2H193.44V276.5H189.42ZM193.44 245.57H197.46V276.5H193.44ZM197.46 253.94H201.48V276.5H197.46ZM201.48 243.3H205.5V276.5H201.48ZM205.5 262.89H209.52V276.5H205.5ZM209.52 266.21H213.54V276.5H209.52ZM213.54 269.1H217.56V276.5H213.54ZM217.56 268.2H221.58V276.5H217.56ZM221.58 274.28H225.6V276.5H221.58ZM225.6 274.2H229.62V276.5H225.6Z"/>
<path fill="#0000ff" fill-opacity="0.3" d="M63.82 269.6H67.79V276.5H63.82ZM67.79 273.71H71.76V276.5H67.79ZM71.76 266H75.73V276.5H71.76ZM75.73 268.38H79.7V276.5H75.73ZM79.7 251.7H83.67V276.5H79.7ZM83.67 266.77H87.64V276.5H83.67ZM87.64 262.1H91.61V276.5H87.64ZM91.61 259.79H95.58V276.5H91.61ZM95.58 250.72H99.55V276.5H95.58ZM99.55 234.3H103.52V276.5H99.55ZM103.52 234.3H107.49V276.5H103.52ZM107.49 235.93H111.46V276.5H107.49ZM111.46 218.48H115.43V276.5H111.46ZM115.43 214.36H119.4V276.5H115.43ZM119.4 230.63H123.37V276.5H119.4ZM123.37 227.01H127.34V276.5H123.37ZM127.34 205.55H131.31V276.5H127.34ZM131.31 187.8H135.28V276.5H131.31ZM135.28 210.11H139.25V276.5H135.28ZM139.25 209.34H143.22V276.5H139.25ZM143.22 209.26H147.19V276.5H143.22ZM147.19 195H151.16V276.5H147.19ZM151.16 200.69H155.13V276.5H151.16ZM155.13 199.12H159.1V276.5H155.13ZM159.1 191.98H163.07V276.5H159.1ZM163.07 180.7H167.04V276.5H163.07ZM167.04 191.65H171.01V276.5H167.04ZM171.01 192.8H174.98V276.5H171.01ZM174.98 222.35H178.95V276.5H174.98ZM178.95 238.94H182.92V276.5H178.95ZM182.92 239.26H186.89V276.5H182.92ZM186.89 240.2H190.86V276.5H186.89ZM190.86 251.54H194.83V276.5H190.86ZM194.83 253.52H198.8V276.5H194.83ZM198.8 264.58H202.77V276.5H198.8ZM202.77 264.05H206.74V276.5H202.77ZM206.74 263.89H210.71V276.5H206.74ZM210.71 273.96H214.68V276.5H210.71ZM214.68 274.52H218.65V276.5H214.68ZM218.65 275.04H222.62V276.5H218.65ZM222.62 275.67H226.59V276.5H222.62Z"/>
<path fill="#008000" fill-opacity="0.3" d="M43.48 275.54H47.5V276.5H43.48ZM47.5 263.7H51.52V276.5H47.5ZM51.52 275.18H55.54V276.5H51.52ZM55.54 274.15H59.56V276.5H55.54ZM59.56 263.7H63.58V276.5H59.56ZM63.58 272.75H67.6V276.5H63.58ZM67.6 270.6H71.62V276.5H67.6ZM71.62 272.8H75.64V276.5H71.62ZM75.64 269.26H79.66V276.5H75.64ZM79.66 265.34H83.68V276.5H79.66ZM83.68 261.63H87.7V276.5H83.68ZM87.7 199.1H91.72V276.5H87.7ZM91.72 251.3H95.74V276.5H91.72ZM95.74 242.16H99.76V276.5H95.74ZM99.76 246.34H103.78V276.5H99.76ZM103.78 235.79H107.8V276.5H103.78ZM107.8 235.22H111.82V276.5H107.8ZM111.82 199.1H115.84V276.5H111.82ZM115.84 230.73H119.86V276.5H115.84ZM119.86 214.25H123.88V276.5H119.86ZM123.88 173.4H127.9V276.5H123.88ZM127.9 228.96H131.92V276.5H127.9ZM131.92 218.42H135.94V276.5H131.92ZM135.94 173.4H139.96V276.5H135.94ZM139.96 209.98H143.98V276.5H139.96ZM143.98 208.92H148V276.5H143.98ZM148 199.53H152.02V276.5H148ZM152.02 198.51H156.04V276.5H152.02ZM156.04 200.75H160.06V276.5H156.04ZM160.06 193.28H164.08V276.5H160.06ZM164.08 192.64H168.1V276.5H164.08ZM168.1 191.62H172.12V276.5H168.1ZM172.12 221.68H176.14V276.5H172.12ZM176.14 212H180.16V276.5H176.14ZM180.16 239.58H184.18V276.5H180.16ZM184.18 225.4H188.2V276.5H184.18ZM188.2 252.78H192.22V276.5H188.2ZM192.22 251.81H196.24V276.5H192.22ZM196.24 254H200.26V276.5H196.24ZM200.26 263.25H204.28V276.5H200.26ZM204.28 250.8H208.3V276.5H204.28ZM208.3 267.43H212.32V276.5H208.3ZM212.32 271.72H216.34V276.5H212.32ZM216.34 272.07H220.36V276.5H216.34ZM220.36 273.64H224.38V276.5H220.36ZM224.38 274.24H228.4V276.5H224.38Z"/>
<path fill="#ffff00" fill-opacity="0.3" d="M69.96 274.4H73.83V276.5H69.96ZM73.83 274.48H77.7V276.5H73.83ZM77.7 257.7H81.57V276.5H77.7ZM81.57 271.54H85.44V276.5H81.57ZM85.44 271.74H89.31V276.5H85.44ZM89.31 265.03H93.18V276.5H89.31ZM93.18 267.85H97.05V276.5H93.18ZM97.05 266.02H100.92V276.5H97.05ZM100.92 259.75H104.79V276.5H100.92ZM104.79 254.1H108.66V276.5H104.79ZM108.66 227.9H112.53V276.5H108.66ZM112.53 249.44H116.4V276.5H112.53ZM116.4 237.4H120.27V276.5H116.4ZM120.27 228.23H124.14V276.5H120.27ZM124.14 232.39H128.01V276.5H124.14ZM128.01 185.7H131.88V276.5H128.01ZM131.88 212.15H135.75V276.5H131.88ZM135.75 200.49H139.62V276.5H135.75ZM139.62 208.03H143.49V276.5H139.62ZM143.49 209H147.36V276.5H143.49ZM147.36 178.7H151.23V276.5H147.36ZM151.23 185.9H155.1V276.5H151.23ZM155.1 198.98H158.97V276.5H155.1ZM158.97 191.99H162.84V276.5H158.97ZM162.84 191.16H166.71V276.5H162.84ZM166.71 191.85H170.58V276.5H166.71ZM170.58 190.92H174.45V276.5H170.58ZM174.45 221.53H178.32V276.5H174.45ZM178.32 235.94H182.19V276.5H178.32ZM182.19 240.21H186.06V276.5H182.19ZM186.06 241.16H189.93V276.5H186.06ZM189.93 252.74H193.8V276.5H189.93ZM193.8 253.07H197.67V276.5H193.8ZM197.67 251.69H201.54V276.5H197.67ZM201.54 263.33H205.41V276.5H201.54ZM205.41 264.01H209.28V276.5H205.41ZM209.28 270.95H213.15V276.5H209.28ZM213.15 273.42H217.02V276.5H213.15ZM217.02 274.36H220.89V276.5H217.02ZM220.89 274.43H224.76V276.5H220.89ZM224.76 274.94H228.63V276.5H224.76Z"/>
<polyline points="25.40,276.50 27.31,276.50 29.22,276.50 31.12,276.50 33.03,276.50 34.94,276.50 36.85,276.50 38.75,276.50 40.66,276.49 42.57,276.49 44.48,276.49 46.38,276.49 48.29,276.48 50.20,276.47 52.11,276.47 54.02,276.46 55.92,276.44 57.83,276.42 59.74,276.40 61.65,276.37 63.55,276.33 65.46,276.28 67.37,276.22 69.28,276.14 71.18,276.05 73.09,275.93 75.00,275.79 76.91,275.61 78.81,275.40 80.72,275.14 82.63,274.83 84.54,274.46 86.45,274.03 88.35,273.51 90.26,272.91 92.17,272.21 94.08,271.39 95.98,270.46 97.89,269.39 99.80,268.17 101.71,266.80 103.61,265.26 105.52,263.54 107.43,261.64 109.34,259.55 111.25,257.27 113.15,254.79 115.06,252.11 116.97,249.25 118.88,246.21 120.78,243.01 122.69,239.66 124.60,236.19 126.51,232.62 128.41,228.98 130.32,225.31 132.23,221.64 134.14,218.01 136.04,214.46 137.95,211.04 139.86,207.79 141.77,204.75 143.68,201.97 145.58,199.48 147.49,197.32 149.40,195.52 151.31,194.11 153.21,193.11 155.12,192.54 157.03,192.40 158.94,192.70 160.84,193.43 162.75,194.59 164.66,196.14 166.57,198.08 168.47,200.36 170.38,202.97 172.29,205.85 174.20,208.97 176.11,212.29 178.01,215.76 179.92,219.34 181.83,223.00 183.74,226.67 185.64,230.34 187.55,233.96 189.46,237.49 191.37,240.92 193.27,244.22 195.18,247.36 197.09,250.34 199.00,253.13 200.91,255.73 202.81,258.14 204.72,260.35 206.63,262.37 208.54,264.20 210.44,265.85 212.35,267.33 214.26,268.64 216.17,269.80 218.07,270.82 219.98,271.71 221.89,272.48 223.80,273.14 225.71,273.71 227.61,274.20 229.52,274.61 231.43,274.95 233.34,275.24 235.24,275.48 237.15,275.68 239.06,275.84 240.97,275.98 242.87,276.09 244.78,276.17 246.69,276.24 248.60,276.30 250.50,276.34 252.41,276.38 254.32,276.41" fill="none" stroke="#ff0000" stroke-width="1.3" stroke-linejoin="round"/>
<polyline points="25.40,276.47 27.31,276.46 29.22,276.45 31.12,276.44 33.03,276.42 34.94,276.40 36.85,276.38 38.75,276.34 40.66,276.30 42.57,276.25 44.48,276.19 46.38,276.11 48.29,276.02 50.20,275.91 52.11,275.78 54.02,275.61 55.92,275.42 57.83,275.19 59.74,274.92 61.65,274.61 63.55,274.24 65.46,273.81 67.37,273.31 69.28,272.73 71.18,272.07 73.09,271.32 75.00,270.47 76.91,269.50 78.81,268.43 80.72,267.22 82.63,265.88 84.54,264.40 86.45,262.78 88.35,261.01 90.26,259.09 92.17,257.01 94.08,254.78 95.98,252.41 97.89,249.89 99.80,247.24 101.71,244.47 103.61,241.59 105.52,238.61 107.43,235.57 109.34,232.47 111.25,229.35 113.15,226.24 115.06,223.15 116.97,220.12 118.88,217.18 120.78,214.37 122.69,211.70 124.60,209.22 126.51,206.96 128.41,204.93 130.32,203.17 132.23,201.70 134.14,200.53 136.04,199.69 137.95,199.18 139.86,199.01 141.77,199.18 143.68,199.69 145.58,200.53 147.49,201.70 149.40,203.17 151.31,204.93 153.21,206.96 155.12,209.22 157.03,211.70 158.94,214.37 160.84,217.18 162.75,220.12 164.66,223.15 166.57,226.24 168.47,229.35 170.38,232.47 172.29,235.57 174.20,238.61 176.11,241.59 178.01,244.47 179.92,247.24 181.83,249.89 183.74,252.41 185.64,254.78 187.55,257.01 189.46,259.09 191.37,261.01 193.27,262.78 195.18,264.40 197.09,265.88 199.00,267.22 200.91,268.43 202.81,269.50 204.72,270.47 206.63,271.32 208.54,272.07 210.44,272.73 212.35,273.31 214.26,273.81 216.17,274.24 218.07,274.61 219.98,274.92 221.89,275.19 223.80,275.42 225.71,275.61 227.61,275.78 229.52,275.91 231.43,276.02 233.34,276.11 235.24,276.19 237.15,276.25 239.06,276.30 240.97,276.34 242.87,276.38 244.78,276.40 246.69,276.42 248.60,276.44 250.50,276.45 252.41,276.46 254.32,276.47" fill="none" stroke="#0000ff" stroke-width="1.3" stroke-linejoin="round"/>
<polyline points="25.40,276.41 27.31,276.38 29.22,276.36 31.12,276.32 33.03,276.28 34.94,276.23 36.85,276.18 38.75,276.11 40.66,276.03 42.57,275.93 44.48,275.81 46.38,275.68 48.29,275.52 50.20,275.34 52.11,275.13 54.02,274.88 55.92,274.60 57.83,274.27 59.74,273.90 61.65,273.48 63.55,273.00 65.46,272.46 67.37,271.85 69.28,271.17 71.18,270.41 73.09,269.57 75.00,268.64 76.91,267.62 78.81,266.50 80.72,265.28 82.63,263.95 84.54,262.51 86.45,260.97 88.35,259.32 90.26,257.56 92.17,255.69 94.08,253.71 95.98,251.64 97.89,249.48 99.80,247.23 101.71,244.91 103.61,242.52 105.52,240.08 107.43,237.61 109.34,235.11 111.25,232.61 113.15,230.12 115.06,227.67 116.97,225.26 118.88,222.93 120.78,220.69 122.69,218.56 124.60,216.56 126.51,214.71 128.41,213.03 130.32,211.53 132.23,210.24 134.14,209.15 136.04,208.29 137.95,207.67 139.86,207.28 141.77,207.14 143.68,207.24 145.58,207.59 147.49,208.17 149.40,209.00 151.31,210.04 153.21,211.30 155.12,212.77 157.03,214.42 158.94,216.24 160.84,218.22 162.75,220.33 164.66,222.55 166.57,224.87 168.47,227.26 170.38,229.71 172.29,232.20 174.20,234.70 176.11,237.20 178.01,239.68 179.92,242.12 181.83,244.52 183.74,246.85 185.64,249.11 187.55,251.29 189.46,253.38 191.37,255.37 193.27,257.25 195.18,259.03 197.09,260.71 199.00,262.27 200.91,263.72 202.81,265.06 204.72,266.30 206.63,267.44 208.54,268.48 210.44,269.42 212.35,270.28 214.26,271.05 216.17,271.74 218.07,272.36 219.98,272.91 221.89,273.40 223.80,273.84 225.71,274.21 227.61,274.55 229.52,274.84 231.43,275.09 233.34,275.31 235.24,275.49 237.15,275.66 239.06,275.79 240.97,275.91 242.87,276.01 244.78,276.10 246.69,276.17 248.60,276.23 250.50,276.28 252.41,276.32 254.32,276.35" fill="none" stroke="#008000" stroke-width="1.3" stroke-linejoin="round"/>
<polyline points="25.40,276.50 27.31,276.49 29.22,276.49 31.12,276.49 33.03,276.49 34.94,276.48 36.85,276.48 38.75,276.47 40.66,276.46 42.57,276.45 44.48,276.43 46.38,276.41 48.29,276.39 50.20,276.36 52.11,276.32 54.02,276.27 55.92,276.21 57.83,276.13 59.74,276.04 61.65,275.93 63.55,275.79 65.46,275.62 67.37,275.43 69.28,275.19 71.18,274.90 73.09,274.57 75.00,274.18 76.91,273.71 78.81,273.18 80.72,272.56 82.63,271.84 84.54,271.02 86.45,270.09 88.35,269.03 90.26,267.84 92.17,266.51 94.08,265.03 95.98,263.39 97.89,261.59 99.80,259.62 101.71,257.48 103.61,255.17 105.52,252.70 107.43,250.06 109.34,247.27 111.25,244.34 113.15,241.28 115.06,238.11 116.97,234.86 118.88,231.54 120.78,228.19 122.69,224.84 124.60,221.52 126.51,218.26 128.41,215.10 130.32,212.07 132.23,209.21 134.14,206.56 136.04,204.15 137.95,202.01 139.86,200.17 141.77,198.66 143.68,197.49 145.58,196.69 147.49,196.25 149.40,196.20 151.31,196.53 153.21,197.23 155.12,198.30 157.03,199.72 158.94,201.47 160.84,203.53 162.75,205.87 164.66,208.45 166.57,211.25 168.47,214.24 170.38,217.37 172.29,220.60 174.20,223.91 176.11,227.26 178.01,230.61 179.92,233.94 181.83,237.21 183.74,240.41 185.64,243.50 187.55,246.47 189.46,249.30 191.37,251.98 193.27,254.50 195.18,256.85 197.09,259.04 199.00,261.06 200.91,262.91 202.81,264.59 204.72,266.11 206.63,267.49 208.54,268.71 210.44,269.81 212.35,270.77 214.26,271.62 216.17,272.37 218.07,273.01 219.98,273.57 221.89,274.05 223.80,274.47 225.71,274.82 227.61,275.11 229.52,275.36 231.43,275.57 233.34,275.75 235.24,275.89 237.15,276.01 239.06,276.11 240.97,276.19 242.87,276.25 244.78,276.30 246.69,276.35 248.60,276.38 250.50,276.41 252.41,276.43 254.32,276.44" fill="none" stroke="#ffff00" stroke-width="1.3" stroke-linejoin="round"/>
</g>
<rect x="13.7" y="154.5" width="251.5" height="122.0" fill="none" stroke="#3a3a3a" stroke-width="1.1"/>
<line x1="25.40" y1="276.5" x2="25.40" y2="279.0" stroke="#000" stroke-width="0.6"/>
<text x="25.40" y="283.70" text-anchor="middle" font-size="5.7" stroke="#000" stroke-width="0.12">−4</text>
<line x1="54.90" y1="276.5" x2="54.90" y2="279.0" stroke="#000" stroke-width="0.6"/>
<text x="54.90" y="283.70" text-anchor="middle" font-size="5.7" stroke="#000" stroke-width="0.12">−3</text>
<line x1="84.40" y1="276.5" x2="84.40" y2="279.0" stroke="#000" stroke-width="0.6"/>
<text x="84.40" y="283.70" text-anchor="middle" font-size="5.7" stroke="#000" stroke-width="0.12">−2</text>
<line x1="113.90" y1="276.5" x2="113.90" y2="279.0" stroke="#000" stroke-width="0.6"/>
<text x="113.90" y="283.70" text-anchor="middle" font-size="5.7" stroke="#000" stroke-width="0.12">−1</text>
<line x1="143.40" y1="276.5" x2="143.40" y2="279.0" stroke="#000" stroke-width="0.6"/>
<text x="143.40" y="283.70" text-anchor="middle" font-size="5.7" stroke="#000" stroke-width="0.12">0</text>
<line x1="172.90" y1="276.5" x2="172.90" y2="279.0" stroke="#000" stroke-width="0.6"/>
<text x="172.90" y="283.70" text-anchor="middle" font-size="5.7" stroke="#000" stroke-width="0.12">1</text>
<line x1="202.40" y1="276.5" x2="202.40" y2="279.0" stroke="#000" stroke-width="0.6"/>
<text x="202.40" y="283.70" text-anchor="middle" font-size="5.7" stroke="#000" stroke-width="0.12">2</text>
<line x1="231.90" y1="276.5" x2="231.90" y2="279.0" stroke="#000" stroke-width="0.6"/>
<text x="231.90" y="283.70" text-anchor="middle" font-size="5.7" stroke="#000" stroke-width="0.12">3</text>
<line x1="261.40" y1="276.5" x2="261.40" y2="279.0" stroke="#000" stroke-width="0.6"/>
<text x="261.40" y="283.70" text-anchor="middle" font-size="5.7" stroke="#000" stroke-width="0.12">4</text>
<line x1="11.2" y1="276.50" x2="13.7" y2="276.50" stroke="#000" stroke-width="0.6"/>
<text x="10.2" y="278.10" text-anchor="end" font-size="5.6" stroke="#000" stroke-width="0.12">0.0</text>
<line x1="11.2" y1="257.60" x2="13.7" y2="257.60" stroke="#000" stroke-width="0.6"/>
<text x="10.2" y="259.20" text-anchor="end" font-size="5.6" stroke="#000" stroke-width="0.12">0.1</text>
<line x1="11.2" y1="238.70" x2="13.7" y2="238.70" stroke="#000" stroke-width="0.6"/>
<text x="10.2" y="240.30" text-anchor="end" font-size="5.6" stroke="#000" stroke-width="0.12">0.2</text>
<line x1="11.2" y1="219.80" x2="13.7" y2="219.80" stroke="#000" stroke-width="0.6"/>
<text x="10.2" y="221.40" text-anchor="end" font-size="5.6" stroke="#000" stroke-width="0.12">0.3</text>
<line x1="11.2" y1="200.90" x2="13.7" y2="200.90" stroke="#000" stroke-width="0.6"/>
<text x="10.2" y="202.50" text-anchor="end" font-size="5.6" stroke="#000" stroke-width="0.12">0.4</text>
<line x1="11.2" y1="182.00" x2="13.7" y2="182.00" stroke="#000" stroke-width="0.6"/>
<text x="10.2" y="183.60" text-anchor="end" font-size="5.6" stroke="#000" stroke-width="0.12">0.5</text>
<line x1="11.2" y1="163.10" x2="13.7" y2="163.10" stroke="#000" stroke-width="0.6"/>
<text x="10.2" y="164.70" text-anchor="end" font-size="5.6" stroke="#000" stroke-width="0.12">0.6</text>
<text x="139.45" y="152.30" text-anchor="middle" font-size="6.5">c) Offshore Western US coastline</text>
<text x="139.45" y="291.00" text-anchor="middle" font-size="5.7">surface air temperature (°C)</text>
<g clip-path="url(#clipd)">
<path fill="#ff0000" fill-opacity="0.3" d="M371.91 262.04H376.1V276.4H371.91ZM376.1 256.66H380.29V276.4H376.1ZM380.29 247.05H384.48V276.4H380.29ZM384.48 247.12H388.67V276.4H384.48ZM388.67 232.63H392.86V276.4H388.67ZM392.86 233.19H397.05V276.4H392.86ZM397.05 230.5H401.24V276.4H397.05ZM401.24 223.67H405.43V276.4H401.24ZM405.43 219.42H409.62V276.4H405.43ZM409.62 218.42H413.81V276.4H409.62ZM413.81 215.96H418V276.4H413.81ZM418 194.4H422.19V276.4H418ZM422.19 201.2H426.38V276.4H422.19ZM426.38 213.21H430.57V276.4H426.38ZM430.57 223.82H434.76V276.4H430.57ZM434.76 233.05H438.95V276.4H434.76ZM438.95 219.03H443.14V276.4H438.95ZM443.14 229.59H447.33V276.4H443.14ZM447.33 241.7H451.52V276.4H447.33ZM451.52 229H455.71V276.4H451.52ZM455.71 237.75H459.9V276.4H455.71ZM459.9 239.44H464.09V276.4H459.9ZM464.09 241.26H468.28V276.4H464.09ZM468.28 248.23H472.47V276.4H468.28ZM472.47 253.32H476.66V276.4H472.47ZM476.66 235.3H480.85V276.4H476.66ZM480.85 257.28H485.04V276.4H480.85ZM485.04 261.84H489.23V276.4H485.04ZM489.23 266.58H493.42V276.4H489.23ZM493.42 268.3H497.61V276.4H493.42ZM497.61 249.4H501.8V276.4H497.61ZM501.8 271.19H505.99V276.4H501.8ZM505.99 271.99H510.18V276.4H505.99ZM510.18 262.9H514.37V276.4H510.18ZM514.37 274.16H518.56V276.4H514.37ZM518.56 274.93H522.75V276.4H518.56Z"/>
<path fill="#0000ff" fill-opacity="0.3" d="M364 266.46H367.72V276.4H364ZM367.72 260H371.44V276.4H367.72ZM371.44 251.32H375.16V276.4H371.44ZM375.16 251.75H378.88V276.4H375.16ZM378.88 245.93H382.6V276.4H378.88ZM382.6 204.9H386.32V276.4H382.6ZM386.32 205H390.04V276.4H386.32ZM390.04 215.1H393.76V276.4H390.04ZM393.76 198H397.48V276.4H393.76ZM397.48 170.5H401.2V276.4H397.48ZM401.2 170.5H404.92V276.4H401.2ZM404.92 198.77H408.64V276.4H404.92ZM408.64 160.3H412.36V276.4H408.64ZM412.36 200H416.08V276.4H412.36ZM416.08 207H419.8V276.4H416.08ZM419.8 207H423.52V276.4H419.8ZM423.52 222H427.24V276.4H423.52ZM427.24 232H430.96V276.4H427.24ZM430.96 240H434.68V276.4H430.96ZM434.68 248H438.4V276.4H434.68ZM438.4 255H442.12V276.4H438.4ZM442.12 236.98H445.84V276.4H442.12ZM445.84 246.94H449.56V276.4H445.84ZM449.56 251.93H453.28V276.4H449.56ZM453.28 257.5H457V276.4H453.28ZM457 258.28H460.72V276.4H457ZM460.72 256.51H464.44V276.4H460.72ZM464.44 256.76H468.16V276.4H464.44ZM468.16 270.8H471.88V276.4H468.16ZM471.88 272.61H475.6V276.4H471.88ZM475.6 273.42H479.32V276.4H475.6ZM479.32 274.86H483.04V276.4H479.32ZM483.04 275.25H486.76V276.4H483.04ZM486.76 275.59H490.48V276.4H486.76Z"/>
<path fill="#008000" fill-opacity="0.3" d="M368.7 255.85H372.3V276.4H368.7ZM372.3 255.21H375.9V276.4H372.3ZM375.9 236.7H379.5V276.4H375.9ZM379.5 245.16H383.1V276.4H379.5ZM383.1 246.78H386.7V276.4H383.1ZM386.7 244.19H390.3V276.4H386.7ZM390.3 226.84H393.9V276.4H390.3ZM393.9 232.5H397.5V276.4H393.9ZM397.5 176.5H401.1V276.4H397.5ZM401.1 222.29H404.7V276.4H401.1ZM404.7 221.9H408.3V276.4H404.7ZM408.3 218.34H411.9V276.4H408.3ZM411.9 166.3H415.5V276.4H411.9ZM415.5 215.68H419.1V276.4H415.5ZM419.1 213.68H422.7V276.4H419.1ZM422.7 208.59H426.3V276.4H422.7ZM426.3 227.49H429.9V276.4H426.3ZM429.9 196.6H433.5V276.4H429.9ZM433.5 218.11H437.1V276.4H433.5ZM437.1 227.74H440.7V276.4H437.1ZM440.7 228.09H444.3V276.4H440.7ZM444.3 232.38H447.9V276.4H444.3ZM447.9 237.4H451.5V276.4H447.9ZM451.5 234.62H455.1V276.4H451.5ZM455.1 241.83H458.7V276.4H455.1ZM458.7 216.2H462.3V276.4H458.7ZM462.3 244.97H465.9V276.4H462.3ZM465.9 249.43H469.5V276.4H465.9ZM469.5 255.01H473.1V276.4H469.5ZM473.1 255.77H476.7V276.4H473.1ZM476.7 263.56H480.3V276.4H476.7ZM480.3 263.29H483.9V276.4H480.3ZM483.9 264.86H487.5V276.4H483.9ZM487.5 268.07H491.1V276.4H487.5ZM491.1 268.55H494.7V276.4H491.1ZM494.7 269.72H498.3V276.4H494.7ZM498.3 271.58H501.9V276.4H498.3ZM501.9 266.7H505.5V276.4H501.9ZM505.5 273.8H509.1V276.4H505.5ZM509.1 273.51H512.7V276.4H509.1ZM512.7 274.31H516.3V276.4H512.7ZM516.3 274.95H519.9V276.4H516.3ZM519.9 275.25H523.5V276.4H519.9ZM523.5 275.75H527.1V276.4H523.5ZM527.1 275.79H530.7V276.4H527.1ZM530.7 275.97H534.3V276.4H530.7ZM534.3 266.7H537.9V276.4H534.3ZM537.9 266.7H541.5V276.4H537.9ZM548.7 266.7H552.3V276.4H548.7Z"/>
<path fill="#ffff00" fill-opacity="0.3" d="M372.48 258.1H376.42V276.4H372.48ZM376.42 257.64H380.36V276.4H376.42ZM380.36 246.35H384.3V276.4H380.36ZM384.3 240.78H388.24V276.4H384.3ZM388.24 231.33H392.18V276.4H388.24ZM392.18 230.51H396.12V276.4H392.18ZM396.12 232.4H400.06V276.4H396.12ZM400.06 225.33H404V276.4H400.06ZM404 180.4H407.94V276.4H404ZM407.94 221.34H411.88V276.4H407.94ZM411.88 218.37H415.82V276.4H411.88ZM415.82 214.21H419.76V276.4H415.82ZM419.76 213.79H423.7V276.4H419.76ZM423.7 225.05H427.64V276.4H423.7ZM427.64 217.34H431.58V276.4H427.64ZM431.58 216H435.52V276.4H431.58ZM435.52 222H439.46V276.4H435.52ZM439.46 225H443.4V276.4H439.46ZM443.4 225.87H447.34V276.4H443.4ZM447.34 239.02H451.28V276.4H447.34ZM451.28 222.6H455.22V276.4H451.28ZM455.22 237.9H459.16V276.4H455.22ZM459.16 236.59H463.1V276.4H459.16ZM463.1 241.82H467.04V276.4H463.1ZM467.04 247.03H470.98V276.4H467.04ZM470.98 251.25H474.92V276.4H470.98ZM474.92 255.31H478.86V276.4H474.92ZM478.86 260.65H482.8V276.4H478.86ZM482.8 262.37H486.74V276.4H482.8ZM486.74 261.57H490.68V276.4H486.74ZM490.68 267.09H494.62V276.4H490.68ZM494.62 268.02H498.56V276.4H494.62ZM498.56 270.42H502.5V276.4H498.56ZM502.5 271.51H506.44V276.4H502.5ZM506.44 272.73H510.38V276.4H506.44ZM510.38 274.21H514.32V276.4H510.38ZM514.32 274.39H518.26V276.4H514.32ZM518.26 261.4H522.2V276.4H518.26ZM522.2 275.42H526.14V276.4H522.2ZM526.14 269.9H530.08V276.4H526.14ZM530.08 275.84H534.02V276.4H530.08ZM534.02 276.08H537.96V276.4H534.02Z"/>
<polyline points="326.70,275.94 328.35,275.87 330.00,275.78 331.64,275.68 333.29,275.57 334.94,275.44 336.59,275.29 338.24,275.13 339.88,274.94 341.53,274.73 343.18,274.50 344.83,274.24 346.48,273.94 348.13,273.62 349.77,273.26 351.42,272.87 353.07,272.43 354.72,271.95 356.37,271.42 358.01,270.85 359.66,270.23 361.31,269.55 362.96,268.82 364.61,268.03 366.25,267.18 367.90,266.27 369.55,265.29 371.20,264.26 372.85,263.15 374.50,261.99 376.14,260.76 377.79,259.46 379.44,258.11 381.09,256.69 382.74,255.22 384.38,253.69 386.03,252.12 387.68,250.49 389.33,248.83 390.98,247.13 392.62,245.41 394.27,243.66 395.92,241.90 397.57,240.14 399.22,238.38 400.87,236.63 402.51,234.90 404.16,233.20 405.81,231.55 407.46,229.95 409.11,228.41 410.75,226.93 412.40,225.54 414.05,224.24 415.70,223.04 417.35,221.94 419.00,220.96 420.64,220.10 422.29,219.37 423.94,218.77 425.59,218.30 427.24,217.98 428.88,217.80 430.53,217.76 432.18,217.87 433.83,218.12 435.48,218.51 437.12,219.04 438.77,219.71 440.42,220.51 442.07,221.43 443.72,222.47 445.37,223.62 447.01,224.87 448.66,226.21 450.31,227.64 451.96,229.15 453.61,230.72 455.25,232.35 456.90,234.03 458.55,235.74 460.20,237.48 461.85,239.24 463.49,241.00 465.14,242.76 466.79,244.52 468.44,246.26 470.09,247.97 471.74,249.65 473.38,251.29 475.03,252.89 476.68,254.45 478.33,255.95 479.98,257.39 481.62,258.78 483.27,260.10 484.92,261.37 486.57,262.57 488.22,263.70 489.86,264.77 491.51,265.78 493.16,266.72 494.81,267.60 496.46,268.42 498.11,269.18 499.75,269.89 501.40,270.54 503.05,271.14 504.70,271.69 506.35,272.19 507.99,272.65 509.64,273.06 511.29,273.44 512.94,273.78 514.59,274.09 516.23,274.37 517.88,274.61 519.53,274.84 521.18,275.03 522.83,275.21 524.48,275.36" fill="none" stroke="#ff0000" stroke-width="1.3" stroke-linejoin="round"/>
<polyline points="326.70,276.17 328.35,276.12 330.00,276.05 331.64,275.96 333.29,275.86 334.94,275.74 336.59,275.59 338.24,275.42 339.88,275.21 341.53,274.97 343.18,274.68 344.83,274.34 346.48,273.95 348.13,273.50 349.77,272.97 351.42,272.37 353.07,271.69 354.72,270.91 356.37,270.03 358.01,269.04 359.66,267.93 361.31,266.70 362.96,265.33 364.61,263.83 366.25,262.19 367.90,260.40 369.55,258.46 371.20,256.37 372.85,254.14 374.50,251.77 376.14,249.26 377.79,246.62 379.44,243.86 381.09,241.00 382.74,238.06 384.38,235.04 386.03,231.99 387.68,228.91 389.33,225.84 390.98,222.79 392.62,219.81 394.27,216.92 395.92,214.15 397.57,211.53 399.22,209.09 400.87,206.86 402.51,204.86 404.16,203.13 405.81,201.67 407.46,200.50 409.11,199.65 410.75,199.13 412.40,198.93 414.05,199.07 415.70,199.54 417.35,200.33 419.00,201.44 420.64,202.84 422.29,204.54 423.94,206.49 425.59,208.68 427.24,211.09 428.88,213.68 430.53,216.42 432.18,219.29 433.83,222.26 435.48,225.29 437.12,228.36 438.77,231.44 440.42,234.50 442.07,237.52 443.72,240.48 445.37,243.36 447.01,246.13 448.66,248.80 450.31,251.33 451.96,253.73 453.61,255.99 455.25,258.10 456.90,260.06 458.55,261.88 460.20,263.55 461.85,265.08 463.49,266.46 465.14,267.72 466.79,268.85 468.44,269.86 470.09,270.76 471.74,271.55 473.38,272.26 475.03,272.87 476.68,273.41 478.33,273.88 479.98,274.28 481.62,274.62 483.27,274.92 484.92,275.17 486.57,275.39 488.22,275.57 489.86,275.72 491.51,275.84 493.16,275.95 494.81,276.03 496.46,276.11 498.11,276.16 499.75,276.21 501.40,276.25 503.05,276.28 504.70,276.31 506.35,276.33 507.99,276.34 509.64,276.36 511.29,276.37 512.94,276.37 514.59,276.38 516.23,276.38 517.88,276.39 519.53,276.39 521.18,276.39 522.83,276.39 524.48,276.40" fill="none" stroke="#0000ff" stroke-width="1.3" stroke-linejoin="round"/>
<polyline points="326.70,275.09 328.35,274.91 330.00,274.72 331.64,274.50 333.29,274.25 334.94,273.98 336.59,273.68 338.24,273.35 339.88,272.99 341.53,272.60 343.18,272.17 344.83,271.69 346.48,271.18 348.13,270.63 349.77,270.03 351.42,269.38 353.07,268.69 354.72,267.94 356.37,267.15 358.01,266.30 359.66,265.40 361.31,264.44 362.96,263.43 364.61,262.36 366.25,261.24 367.90,260.07 369.55,258.85 371.20,257.57 372.85,256.25 374.50,254.88 376.14,253.47 377.79,252.02 379.44,250.53 381.09,249.02 382.74,247.48 384.38,245.92 386.03,244.35 387.68,242.77 389.33,241.19 390.98,239.62 392.62,238.06 394.27,236.53 395.92,235.02 397.57,233.56 399.22,232.13 400.87,230.76 402.51,229.46 404.16,228.22 405.81,227.06 407.46,225.98 409.11,224.99 410.75,224.10 412.40,223.31 414.05,222.62 415.70,222.05 417.35,221.59 419.00,221.25 420.64,221.03 422.29,220.93 423.94,220.95 425.59,221.10 427.24,221.36 428.88,221.75 430.53,222.25 432.18,222.87 433.83,223.59 435.48,224.42 437.12,225.35 438.77,226.38 440.42,227.49 442.07,228.68 443.72,229.94 445.37,231.28 447.01,232.66 448.66,234.10 450.31,235.59 451.96,237.11 453.61,238.65 455.25,240.21 456.90,241.79 458.55,243.37 460.20,244.95 461.85,246.51 463.49,248.06 465.14,249.60 466.79,251.10 468.44,252.57 470.09,254.01 471.74,255.40 473.38,256.75 475.03,258.06 476.68,259.32 478.33,260.52 479.98,261.67 481.62,262.77 483.27,263.82 484.92,264.81 486.57,265.74 488.22,266.63 489.86,267.45 491.51,268.23 493.16,268.96 494.81,269.63 496.46,270.26 498.11,270.84 499.75,271.38 501.40,271.88 503.05,272.33 504.70,272.75 506.35,273.13 507.99,273.48 509.64,273.80 511.29,274.09 512.94,274.35 514.59,274.58 516.23,274.79 517.88,274.98 519.53,275.15 521.18,275.31 522.83,275.44 524.48,275.56" fill="none" stroke="#008000" stroke-width="1.3" stroke-linejoin="round"/>
<polyline points="326.70,275.73 328.35,275.63 330.00,275.51 331.64,275.38 333.29,275.23 334.94,275.06 336.59,274.87 338.24,274.66 339.88,274.43 341.53,274.16 343.18,273.87 344.83,273.55 346.48,273.19 348.13,272.80 349.77,272.37 351.42,271.90 353.07,271.39 354.72,270.83 356.37,270.22 358.01,269.56 359.66,268.85 361.31,268.09 362.96,267.26 364.61,266.39 366.25,265.45 367.90,264.45 369.55,263.40 371.20,262.28 372.85,261.11 374.50,259.87 376.14,258.58 377.79,257.23 379.44,255.83 381.09,254.37 382.74,252.87 384.38,251.33 386.03,249.75 387.68,248.13 389.33,246.49 390.98,244.82 392.62,243.15 394.27,241.46 395.92,239.78 397.57,238.10 399.22,236.44 400.87,234.81 402.51,233.22 404.16,231.66 405.81,230.16 407.46,228.73 409.11,227.36 410.75,226.07 412.40,224.87 414.05,223.77 415.70,222.77 417.35,221.88 419.00,221.10 420.64,220.45 422.29,219.91 423.94,219.51 425.59,219.24 427.24,219.11 428.88,219.11 430.53,219.24 432.18,219.51 433.83,219.90 435.48,220.43 437.12,221.09 438.77,221.86 440.42,222.75 442.07,223.75 443.72,224.85 445.37,226.05 447.01,227.33 448.66,228.70 450.31,230.13 451.96,231.63 453.61,233.18 455.25,234.78 456.90,236.41 458.55,238.06 460.20,239.74 461.85,241.42 463.49,243.11 465.14,244.79 466.79,246.45 468.44,248.09 470.09,249.71 471.74,251.29 473.38,252.84 475.03,254.34 476.68,255.79 478.33,257.20 479.98,258.55 481.62,259.84 483.27,261.08 484.92,262.26 486.57,263.37 488.22,264.43 489.86,265.43 491.51,266.37 493.16,267.25 494.81,268.07 496.46,268.83 498.11,269.55 499.75,270.20 501.40,270.81 503.05,271.37 504.70,271.89 506.35,272.36 507.99,272.79 509.64,273.19 511.29,273.54 512.94,273.87 514.59,274.16 516.23,274.42 517.88,274.66 519.53,274.87 521.18,275.06 522.83,275.23 524.48,275.38" fill="none" stroke="#ffff00" stroke-width="1.3" stroke-linejoin="round"/>
</g>
<rect x="315.4" y="154.5" width="251.10000000000002" height="121.89999999999998" fill="none" stroke="#3a3a3a" stroke-width="1.1"/>
<line x1="326.70" y1="276.4" x2="326.70" y2="278.9" stroke="#000" stroke-width="0.6"/>
<text x="326.70" y="283.60" text-anchor="middle" font-size="5.7" stroke="#000" stroke-width="0.12">−3</text>
<line x1="356.00" y1="276.4" x2="356.00" y2="278.9" stroke="#000" stroke-width="0.6"/>
<text x="356.00" y="283.60" text-anchor="middle" font-size="5.7" stroke="#000" stroke-width="0.12">−2</text>
<line x1="385.30" y1="276.4" x2="385.30" y2="278.9" stroke="#000" stroke-width="0.6"/>
<text x="385.30" y="283.60" text-anchor="middle" font-size="5.7" stroke="#000" stroke-width="0.12">−1</text>
<line x1="414.60" y1="276.4" x2="414.60" y2="278.9" stroke="#000" stroke-width="0.6"/>
<text x="414.60" y="283.60" text-anchor="middle" font-size="5.7" stroke="#000" stroke-width="0.12">0</text>
<line x1="443.90" y1="276.4" x2="443.90" y2="278.9" stroke="#000" stroke-width="0.6"/>
<text x="443.90" y="283.60" text-anchor="middle" font-size="5.7" stroke="#000" stroke-width="0.12">1</text>
<line x1="473.20" y1="276.4" x2="473.20" y2="278.9" stroke="#000" stroke-width="0.6"/>
<text x="473.20" y="283.60" text-anchor="middle" font-size="5.7" stroke="#000" stroke-width="0.12">2</text>
<line x1="502.50" y1="276.4" x2="502.50" y2="278.9" stroke="#000" stroke-width="0.6"/>
<text x="502.50" y="283.60" text-anchor="middle" font-size="5.7" stroke="#000" stroke-width="0.12">3</text>
<line x1="531.80" y1="276.4" x2="531.80" y2="278.9" stroke="#000" stroke-width="0.6"/>
<text x="531.80" y="283.60" text-anchor="middle" font-size="5.7" stroke="#000" stroke-width="0.12">4</text>
<line x1="561.10" y1="276.4" x2="561.10" y2="278.9" stroke="#000" stroke-width="0.6"/>
<text x="561.10" y="283.60" text-anchor="middle" font-size="5.7" stroke="#000" stroke-width="0.12">5</text>
<line x1="312.9" y1="276.40" x2="315.4" y2="276.40" stroke="#000" stroke-width="0.6"/>
<text x="311.9" y="278.00" text-anchor="end" font-size="5.6" stroke="#000" stroke-width="0.12">0.0</text>
<line x1="312.9" y1="259.74" x2="315.4" y2="259.74" stroke="#000" stroke-width="0.6"/>
<text x="311.9" y="261.34" text-anchor="end" font-size="5.6" stroke="#000" stroke-width="0.12">0.1</text>
<line x1="312.9" y1="243.08" x2="315.4" y2="243.08" stroke="#000" stroke-width="0.6"/>
<text x="311.9" y="244.68" text-anchor="end" font-size="5.6" stroke="#000" stroke-width="0.12">0.2</text>
<line x1="312.9" y1="226.42" x2="315.4" y2="226.42" stroke="#000" stroke-width="0.6"/>
<text x="311.9" y="228.02" text-anchor="end" font-size="5.6" stroke="#000" stroke-width="0.12">0.3</text>
<line x1="312.9" y1="209.76" x2="315.4" y2="209.76" stroke="#000" stroke-width="0.6"/>
<text x="311.9" y="211.36" text-anchor="end" font-size="5.6" stroke="#000" stroke-width="0.12">0.4</text>
<line x1="312.9" y1="193.10" x2="315.4" y2="193.10" stroke="#000" stroke-width="0.6"/>
<text x="311.9" y="194.70" text-anchor="end" font-size="5.6" stroke="#000" stroke-width="0.12">0.5</text>
<line x1="312.9" y1="176.44" x2="315.4" y2="176.44" stroke="#000" stroke-width="0.6"/>
<text x="311.9" y="178.04" text-anchor="end" font-size="5.6" stroke="#000" stroke-width="0.12">0.6</text>
<line x1="312.9" y1="159.78" x2="315.4" y2="159.78" stroke="#000" stroke-width="0.6"/>
<text x="311.9" y="161.38" text-anchor="end" font-size="5.6" stroke="#000" stroke-width="0.12">0.7</text>
<text x="440.95" y="152.30" text-anchor="middle" font-size="6.5">d) San Diego California</text>
<text x="440.95" y="290.90" text-anchor="middle" font-size="5.7">precipitation (mm/day)</text>
<rect x="25.5" y="12.0" width="80.5" height="26.5" rx="1.5" fill="#f5deb3" fill-opacity="0.5" stroke="#000" stroke-opacity="0.5" stroke-width="0.6"/>
<text x="27.3" y="16.70" font-size="5.25" font-weight="bold">El Niño  ≠  Neutral</text>
<text x="27.3" y="23.15" font-size="5.25" font-weight="bold">El Niño, PDO+  ≠  Neutral</text>
<text x="27.3" y="29.60" font-size="5.25" font-weight="bold">El Niño, PDO+ = El Niño</text>
<text x="27.3" y="36.05" font-size="5.25" font-weight="bold">El Niño, PDO+  ≠  El Niño, PDO-</text>
<rect x="464.9" y="11.7" width="78.3" height="27.8" rx="1.5" fill="#f5deb3" fill-opacity="0.5" stroke="#000" stroke-opacity="0.5" stroke-width="0.6"/>
<text x="466.7" y="16.40" font-size="5.25" font-weight="bold">El Niño  ≠  Neutral</text>
<text x="466.7" y="22.85" font-size="5.25" font-weight="bold">El Niño, PDO+  ≠  Neutral</text>
<text x="466.7" y="29.30" font-size="5.25" font-weight="bold">El Niño, PDO+ = El Niño</text>
<text x="466.7" y="35.75" font-size="5.25" font-weight="bold">El Niño, PDO+ = El Niño, PDO-</text>
<rect x="25.3" y="158.8" width="80.5" height="27.8" rx="1.5" fill="#f5deb3" fill-opacity="0.5" stroke="#000" stroke-opacity="0.5" stroke-width="0.6"/>
<text x="27.1" y="163.50" font-size="5.25" font-weight="bold">El Niño  ≠  Neutral</text>
<text x="27.1" y="169.95" font-size="5.25" font-weight="bold">El Niño, PDO+  ≠  Neutral</text>
<text x="27.1" y="176.40" font-size="5.25" font-weight="bold">El Niño, PDO+  ≠  El Niño</text>
<text x="27.1" y="182.85" font-size="5.25" font-weight="bold">El Niño, PDO+  ≠  El Niño, PDO-</text>
<rect x="464.9" y="159.2" width="78.3" height="27.0" rx="1.5" fill="#f5deb3" fill-opacity="0.5" stroke="#000" stroke-opacity="0.5" stroke-width="0.6"/>
<text x="466.7" y="163.90" font-size="5.25" font-weight="bold">El Niño  ≠  Neutral</text>
<text x="466.7" y="170.35" font-size="5.25" font-weight="bold">El Niño, PDO+  ≠  Neutral</text>
<text x="466.7" y="176.80" font-size="5.25" font-weight="bold">El Niño, PDO+ = El Niño</text>
<text x="466.7" y="183.25" font-size="5.25" font-weight="bold">El Niño, PDO+ = El Niño, PDO-</text>
<rect x="207.5" y="9.8" width="55.8" height="32.2" rx="1.5" fill="#fff" fill-opacity="0.8" stroke="#ccc" stroke-width="0.6"/>
<line x1="209.3" y1="14.30" x2="219.9" y2="14.30" stroke="#ff0000" stroke-width="1.1"/>
<text x="224" y="16.30" font-size="5.12" font-weight="bold">El Niño, PDO +</text>
<line x1="209.3" y1="21.90" x2="219.9" y2="21.90" stroke="#0000ff" stroke-width="1.1"/>
<text x="224" y="23.90" font-size="5.12" font-weight="bold">Neutral</text>
<line x1="209.3" y1="29.50" x2="219.9" y2="29.50" stroke="#008000" stroke-width="1.1"/>
<text x="224" y="31.50" font-size="5.12" font-weight="bold">El Niño, PDO -</text>
<line x1="209.3" y1="37.10" x2="219.9" y2="37.10" stroke="#ffff00" stroke-width="1.1"/>
<text x="224" y="39.10" font-size="5.12" font-weight="bold">El Niño</text></svg>
</body></html>
